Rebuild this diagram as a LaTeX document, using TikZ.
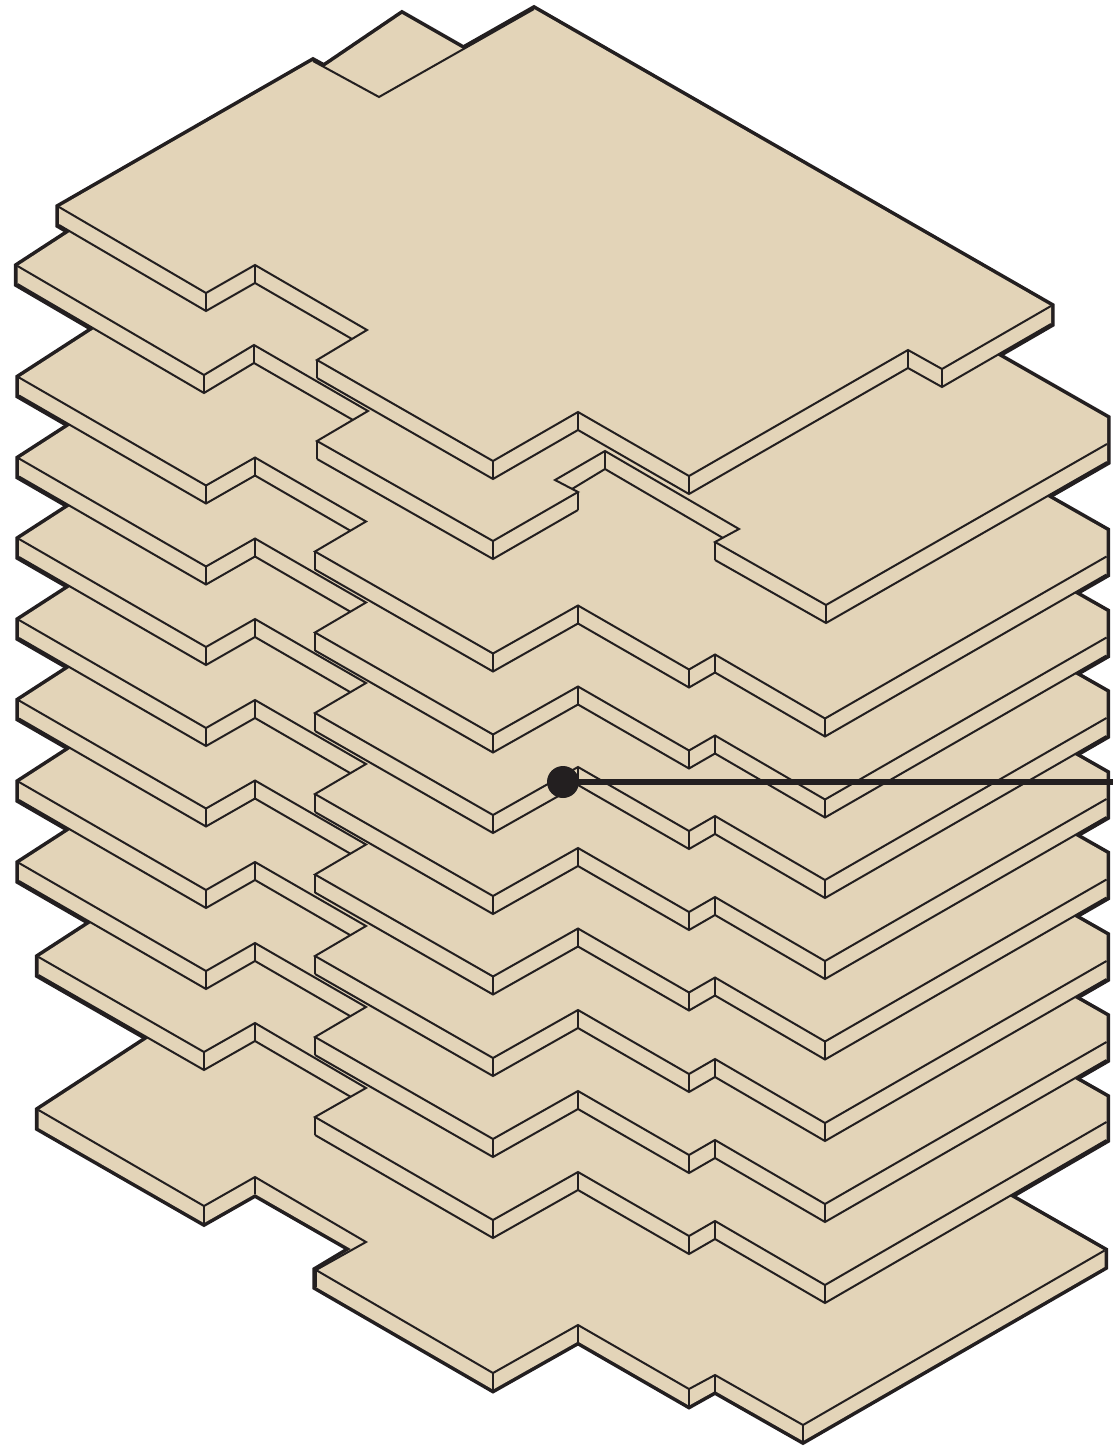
\documentclass[tikz,border=0pt]{standalone}
\definecolor{slab}{HTML}{E3D4B8}
\definecolor{ink}{HTML}{231F20}
\tikzset{
  slaboutline/.style={draw=ink,line width=5.4pt,line join=miter},
  slabfill/.style={fill=slab},
  edgeline/.style={draw=ink,line width=1.5pt,line join=miter,line cap=butt},
  leader/.style={draw=ink,line width=4.2pt},
  anchorpoint/.style={circle,fill=ink,draw=none,inner sep=0pt,minimum size=24pt}
}
% typical storey, drawn at the position of plate H
\newcommand{\midsil}{(19,782) -- (19,800) -- (206,908) -- (255,880) -- (350,935) -- (315,956) -- (315,974) -- (493,1076) -- (578,1028) -- (689,1092) -- (715,1077) -- (825,1141) -- (1106.5,979) -- (1106.5,935) -- (987,867) -- (138,705) -- cycle}
\newcommand{\midlines}{%
  \draw[edgeline] (19,782) -- (206,890) -- (255,862) -- (366,926) -- (315,956) -- (493,1058) -- (578,1010) -- (689,1074) -- (715,1059) -- (825,1123) -- (1106.5,961);
  \draw[edgeline] (19,800) -- (206,908) -- (255,880) -- (350,935);
  \draw[edgeline] (315,974) -- (493,1076) -- (578,1028) -- (689,1092) -- (715,1077) -- (825,1141) -- (1106.5,979);
  \foreach \px/\py in {206/890,255/862,315/956,493/1058,578/1010,689/1074,715/1059,825/1123}
    \draw[edgeline] (\px,\py) -- ++(0,18);
}
% plate J
\newcommand{\jsil}{(38.5,957) -- (38.5,975) -- (204,1070) -- (255,1041) -- (351,1097) -- (315,1117) -- (315,1135) -- (493,1238) -- (578,1190) -- (689,1254) -- (715,1239) -- (825,1303) -- (1106.5,1140) -- (1106.5,1097) -- (987,1029) -- (157,880) -- cycle}
% plate K
\newcommand{\ksil}{(38.5,1110) -- (38.5,1128) -- (204,1223) -- (255,1194) -- (351,1249) -- (316,1270) -- (316,1287) -- (493,1389.5) -- (578,1341.5) -- (689,1405.5) -- (715,1391) -- (803,1441) -- (1104.5,1267) -- (1104.5,1250.5) -- (976,1177) -- (187,1013) -- cycle}
% plate B
\newcommand{\bsil}{(17.5,266) -- (17.5,284) -- (204,393) -- (254,363) -- (353,420) -- (317,441) -- (317,459) -- (493,559) -- (578,510) -- (578,492) -- (572,489) -- (605,469) -- (723,538) -- (715,542) -- (715,560) -- (826,623) -- (1107,462) -- (1107,418) -- (967,338) -- (125,196) -- cycle}
% plate A
\newcommand{\asil}{(59,207) -- (59,225) -- (206,311) -- (255,283) -- (352,339) -- (317,360) -- (317,378) -- (493,479) -- (578,430) -- (689,494) -- (908,368) -- (942,387) -- (1051,324) -- (1051,306) -- (534,9) -- (379,97) -- (313,61) -- cycle}
% piece behind the top plate
\newcommand{\backsil}{(402,14) -- (500,70) -- (400,150) -- (290,90) -- cycle}
\begin{document}
\begin{tikzpicture}[x=0.75pt,y=-0.75pt]
\useasboundingbox (0,0) rectangle (1113,1446);
% silhouette pass
\path[slaboutline] \ksil;
\path[slaboutline] \jsil;
\foreach \d in {81,0,-81.5,-162,-243,-323.5,-404.5}{
  \begin{scope}[shift={(0,\d)}]
    \path[slaboutline] \midsil;
  \end{scope}
}
\path[slaboutline] \bsil;
\path[slaboutline] \backsil;
\path[slaboutline] \asil;
% plate K
\path[slabfill] \ksil;
\draw[edgeline] (38.5,1110) -- (204,1206) -- (255,1177) -- (366,1242) -- (316,1270) -- (493,1373) -- (578,1325) -- (689,1389) -- (715,1375) -- (803,1425) -- (1104.5,1250.5);
\foreach \px/\py in {204/1206,255/1177,316/1270,493/1373,578/1325,689/1389,715/1375,803/1425}
  \draw[edgeline] (\px,\py) -- ++(0,16.5);
% plate J
\path[slabfill] \jsil;
\draw[edgeline] (38.5,957) -- (204,1052) -- (255,1023) -- (366,1088) -- (315,1117) -- (493,1220) -- (578,1172) -- (689,1236) -- (715,1221) -- (825,1285) -- (1106.5,1122);
\draw[edgeline] (38.5,975) -- (204,1070) -- (255,1041) -- (351,1097);
\draw[edgeline] (315,1135) -- (493,1238) -- (578,1190) -- (689,1254) -- (715,1239) -- (825,1303) -- (1106.5,1140);
\foreach \px/\py in {204/1052,255/1023,315/1117,493/1220,578/1172,689/1236,715/1221,825/1285}
  \draw[edgeline] (\px,\py) -- ++(0,18);
% plates I to C
\foreach \d in {81,0,-81.5,-162,-243,-323.5,-404.5}{
  \begin{scope}[shift={(0,\d)}]
    \path[slabfill] \midsil;
    \midlines
  \end{scope}
}
% plate B
\path[slabfill] \bsil;
\draw[edgeline] (17.5,266) -- (204,375) -- (254,345) -- (368,411) -- (317,441) -- (493,541) -- (578,492) -- (555,480) -- (605,451) -- (739,529) -- (715,542) -- (826,605) -- (1107,444);
\draw[edgeline] (17.5,284) -- (204,393) -- (254,363) -- (353,420);
\draw[edgeline] (317,459) -- (493,559) -- (578,510);
\draw[edgeline] (572,489) -- (605,469) -- (723,538);
\draw[edgeline] (715,560) -- (826,623) -- (1107,462);
\foreach \px/\py in {204/375,254/345,317/441,493/541,578/492,605/451,715/542,826/605}
  \draw[edgeline] (\px,\py) -- ++(0,18);
% piece behind the top plate
\path[slabfill] \backsil;
% plate A
\path[slabfill] \asil;
\draw[edgeline] (59,207) -- (206,293) -- (255,265) -- (367,330) -- (317,360) -- (493,461) -- (578,412) -- (689,476) -- (908,350) -- (942,369) -- (1051,306);
\draw[edgeline] (59,225) -- (206,311) -- (255,283) -- (352,339);
\draw[edgeline] (317,378) -- (493,479) -- (578,430) -- (689,494) -- (908,368) -- (942,387) -- (1051,324);
\draw[edgeline] (534,9) -- (379,97) -- (313,61);
\foreach \px/\py in {206/293,255/265,317/360,493/461,578/412,689/476,908/350,942/369}
  \draw[edgeline] (\px,\py) -- ++(0,18);
% leader
\node[anchorpoint] (dot) at (563,782) {};
\coordinate (leaderend) at (1113,782);
\draw[leader] (dot.center) -- (leaderend);
\end{tikzpicture}
\end{document}
